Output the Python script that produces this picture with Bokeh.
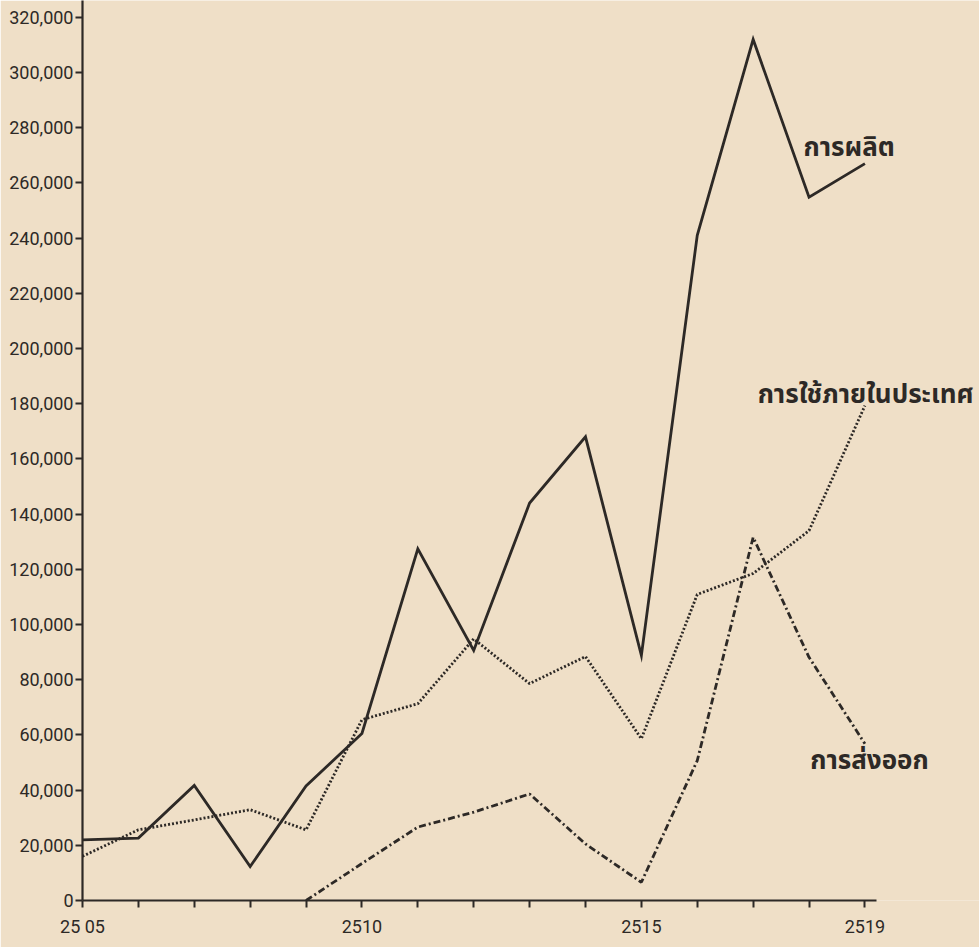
from bokeh.plotting import figure
from bokeh.models import FixedTicker, Range1d, NumeralTickFormatter
from bokeh.core.properties import value
from bokeh.embed import file_html
from bokeh.resources import INLINE

# ---- data (Buddhist-era years) ----
years = [2505, 2506, 2507, 2508, 2509, 2510, 2511, 2512, 2513, 2514, 2515, 2516, 2517, 2518, 2519]
production = [22000, 22600, 41700, 12300, 41500, 60500, 127400, 90600, 144000, 168000, 88800, 241000, 312000, 254800, 267000]
domestic = [16000, 25600, 29200, 32900, 25600, 65500, 71300, 94800, 78600, 88400, 58600, 110900, 118500, 134000, 179300]
export_years = [2509, 2510, 2511, 2512, 2513, 2514, 2515, 2516, 2517, 2518, 2519]
export = [0, 13400, 26600, 32000, 38600, 20500, 6600, 50700, 131600, 88100, 56800]

y_ticks = list(range(0, 320001, 20000))
x_ticks = years
x_tick_labels = {2505: "25 05", 2510: "2510", 2515: "2515", 2519: "2519"}

label_texts = ["การผลิต", "การใช้ภายในประเทศ", "การส่งออก"]
label_x = [2517.9, 2517.08, 2518.02]
label_y = [272800, 183000, 50700]

BG = "#efdfc7"
INK = "#2d2926"
THAI_FONT = "Noto Sans Thai"
NUM_FONT = "Roboto"

p = figure(width=979, height=947, output_backend="svg", toolbar_location=None,
           x_range=Range1d(2505, 2521.05), y_range=Range1d(0, 326100),
           min_border_left=82, min_border_right=0, min_border_top=0, min_border_bottom=47)
p.background_fill_color = BG
p.border_fill_color = BG
p.outline_line_color = None
p.xgrid.grid_line_color = None
p.ygrid.grid_line_color = None

# axes
p.xaxis.ticker = FixedTicker(ticks=x_ticks)
p.xaxis.major_label_overrides = {y: x_tick_labels.get(y, "") for y in x_ticks}
p.xaxis.bounds = (2505, 2519.2)
p.yaxis.ticker = FixedTicker(ticks=y_ticks)
p.yaxis.formatter = NumeralTickFormatter(format="0,0")
for ax in (p.xaxis, p.yaxis):
    ax.axis_line_color = INK
    ax.axis_line_width = 2.2
    ax.major_tick_line_color = INK
    ax.major_tick_line_width = 2
    ax.major_tick_in = 0
    ax.major_tick_out = 7
    ax.minor_tick_line_color = None
    ax.major_label_text_font = NUM_FONT
    ax.major_label_text_font_size = "18px"
    ax.major_label_text_color = INK
p.yaxis.major_label_standoff = 2
p.xaxis.major_label_standoff = 8

# series
p.line(years, production, line_color=INK, line_width=2.8, line_join="miter")
p.line(years, domestic, line_color=INK, line_width=2.8, line_dash="2 2")
p.line(export_years, export, line_color=INK, line_width=2.8, line_dash="7 3 2 3")

p.text(x=label_x, y=label_y, text=label_texts, text_font=value(THAI_FONT),
       text_font_size="26px", text_font_style="bold", text_color=INK,
       text_align="left", text_baseline="middle")

open("out.html", "w").write(file_html(p, INLINE))
